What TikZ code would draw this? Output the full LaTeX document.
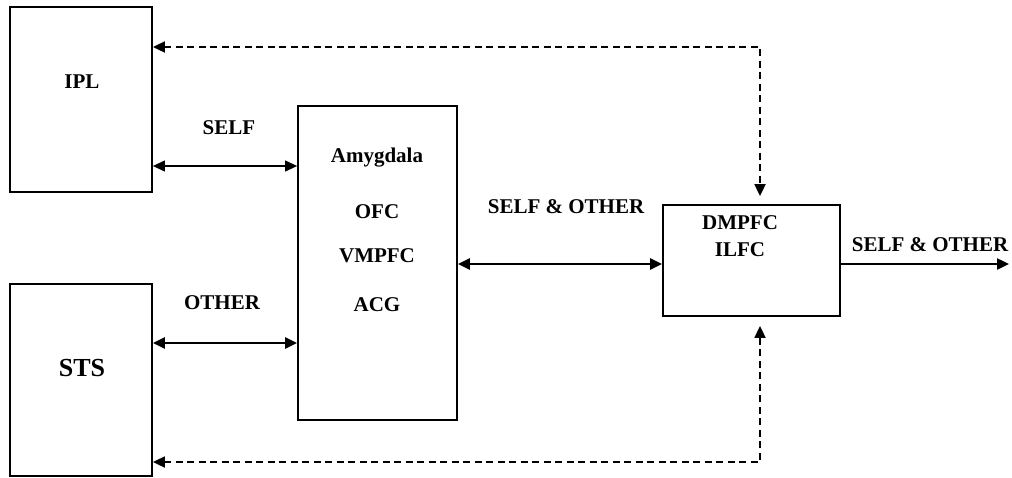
\documentclass[tikz,border=0pt]{standalone}
\usepackage{fontspec}
\setmainfont{Liberation Serif}
\usetikzlibrary{arrows.meta}
\begin{document}
\begin{tikzpicture}[x=1pt,y=-1pt,
  region/.style={draw,line width=1.8pt,inner sep=0pt},
  lbl/.style={font=\bfseries\fontsize{21}{24}\selectfont,inner sep=0pt},
  head/.tip={Triangle[length=12pt,width=11pt]},
  tip/.style={-head},
  both/.style={head-head},
  feedback/.style={line width=1.8pt,dash pattern=on 7pt off 4.5pt}]
\useasboundingbox (0,0) rectangle (1012,477);
% boxes
\node[region,minimum width=142pt,minimum height=185pt] (ipl) at (81,99.5) {};
\node[region,minimum width=142pt,minimum height=192pt] (sts) at (81,380) {};
\node[region,minimum width=159pt,minimum height=314pt] (mid) at (377.5,263) {};
\node[region,minimum width=177pt,minimum height=111pt] (dm) at (751.5,260.5) {};
% box texts
\node[lbl] (iplt) at (82,82) {IPL};
\node[lbl,font=\bfseries\fontsize{26}{29}\selectfont] (stst) at (82,368) {STS};
\node[lbl] (amy) at (377,158) {Amygdala};
\node[lbl] (ofc) at (377,212) {OFC};
\node[lbl] (vmp) at (377,256) {VMPFC};
\node[lbl] (acg) at (377,305) {ACG};
\node[lbl] (dmp) at (740,223) {DMPFC};
\node[lbl] (ilf) at (740,250) {ILFC};
% connector labels
\node[lbl] (selfl) at (229,128) {SELF};
\node[lbl] (othl) at (222,303) {OTHER};
\node[lbl] (sol) at (566,207) {SELF \& OTHER};
\node[lbl] (sor) at (930,245) {SELF \& OTHER};
% solid connectors
\draw[both,line width=1.1pt] (ipl.east |- 0,166) -- (mid.west |- 0,166);
\draw[both,line width=2.4pt] (sts.east |- 0,343) -- (mid.west |- 0,343);
\draw[both,line width=2.4pt] (mid.east |- 0,264) -- (dm.west |- 0,264);
\coordinate (out) at (1009,264);
\draw[tip,line width=2.4pt] (dm.east |- 0,264) -- (out);
% dashed feedback connectors, stopping just short of the DMPFC box
\coordinate (tc) at (760,47);
\coordinate (bc) at (760,462);
\draw[feedback,both] (ipl.east |- tc) -- (tc) -- ([yshift=8pt]dm.north -| tc);
\draw[feedback,both] (sts.east |- bc) -- (bc) -- ([yshift=-9pt]dm.south -| bc);
\end{tikzpicture}
\end{document}
